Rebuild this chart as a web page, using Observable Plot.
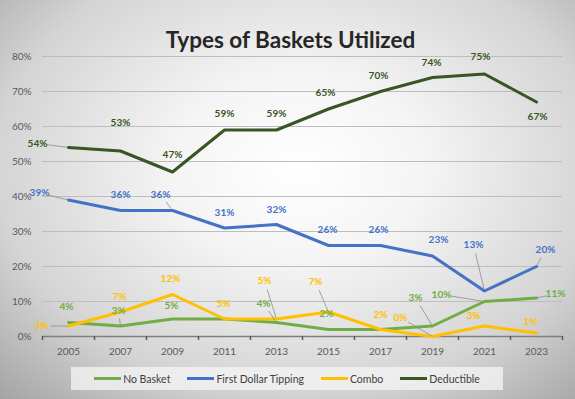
<!DOCTYPE html>
<html>
<head>
<meta charset="utf-8">
<script src="https://cdn.jsdelivr.net/npm/d3@7"></script>
<script src="https://cdn.jsdelivr.net/npm/@observablehq/plot@0.6"></script>
<style>
  html, body { margin: 0; padding: 0; }
  #wrap {
    position: relative; width: 575px; height: 399px; overflow: hidden;
    font-family: Lato, "Open Sans", sans-serif;
    background: radial-gradient(ellipse 75% 80% at 52% 42%, #ffffff 0%, #f4f4f4 30%, #d4d4d4 70%, #a4a4a4 100%);
  }
  #title {
    position: absolute; top: 27px; left: 3px; width: 575px; text-align: center;
    font-size: 22.5px; font-weight: bold; color: #262626; line-height: 26px;
  }
  #chart { position: absolute; top: 50px; left: 0; }
  #legend {
    position: absolute; left: 71px; top: 367px; width: 432px; height: 23px;
    background: rgba(245,245,245,0.75);
    display: flex; align-items: center; justify-content: center; gap: 17px;
    font-size: 10.5px; color: #404040;
  }
  .item { display: flex; align-items: center; }
  .sw { display: inline-block; width: 27px; height: 3px; margin-right: 2px; }
</style>
</head>
<body>
<div id="wrap">
  <div id="title">Types of Baskets Utilized</div>
  <div id="chart"></div>
  <div id="legend"></div>
</div>
<script>
// ---- data ----
const years = [2005, 2007, 2009, 2011, 2013, 2015, 2017, 2019, 2021, 2023];
const noBasket    = [4, 3, 5, 5, 4, 2, 2, 3, 10, 11];
const firstDollar = [39, 36, 36, 31, 32, 26, 26, 23, 13, 20];
const combo       = [3, 7, 12, 5, 5, 7, 2, 0, 3, 1];
const deductible  = [54, 53, 47, 59, 59, 65, 70, 74, 75, 67];
const seriesNames = ["No Basket", "First Dollar Tipping", "Combo", "Deductible"];
const yTicks = [0, 10, 20, 30, 40, 50, 60, 70, 80];
const tickBounds = [2004, 2006, 2008, 2010, 2012, 2014, 2016, 2018, 2020, 2022, 2024];

// ---- styling / label placement (pixels) ----
const colors = ["#70AD47", "#4472C4", "#FFC000", "#375623"];
const labelOffsets = [
  [[-2,-16],[-2,-15],[-1,-13],null,[-13,-19],[-2,-16],null,[-17,-28],[-43,-7],[19,-4]],
  [[-29,-7],[0,-16],[-12,-16],[0,-15],[0,-15],[-1,-16],[-2,-16],[6,-16],[-11,-46],[9,-17]],
  [[-27,0],[-1,-15],[-2,-16],[-1,-15],[-12,-38],[-13,-30],[0,-15],[-32,-19],[-11,-10],[-6,-11]],
  [[-31,-4],[0,-28],[0,-17],[0,-16],[0,-16],[-3,-16],[-2,-16],[-1,-15],[-4,-17],[1,15]]
];
const leaderFlags = [
  [0,1,0,0,1,0,0,1,1,1],
  [1,0,1,0,0,0,0,0,1,1],
  [1,0,0,0,1,1,0,1,0,0],
  [1,0,0,0,0,0,0,0,0,0]
];

const W = 575, H = 312, mT = 6, mB = 26, mL = 42, mR = 13;
const xDom = [2004, 2024], yDom = [0, 80];
const pxPerX = (W - mL - mR) / (xDom[1] - xDom[0]);
const pxPerY = (H - mT - mB) / (yDom[1] - yDom[0]);

const allSeries = [noBasket, firstDollar, combo, deductible];
const rows = [], labels = [], leaders = [];
allSeries.forEach((vals, s) => {
  vals.forEach((v, i) => {
    rows.push({series: seriesNames[s], year: years[i], value: v});
    const off = labelOffsets[s][i];
    if (!off) return;
    const lx = years[i] + off[0] / pxPerX;
    const ly = v - off[1] / pxPerY;
    labels.push({series: seriesNames[s], lx, ly, text: v + "%"});
    if (leaderFlags[s][i]) {
      const len = Math.hypot(off[0], off[1]);
      const ux = -off[0] / len, uy = -off[1] / len; // from label toward point (px)
      const startPx = Math.min(9, len * 0.5);
      const sx = off[0] + ux * startPx, sy = off[1] + uy * startPx;
      leaders.push({
        series: seriesNames[s],
        x1: years[i] + sx / pxPerX, y1: v - sy / pxPerY,
        x2: years[i] - ux * 1 / pxPerX, y2: v + uy * 1 / pxPerY
      });
    }
  });
});

const chart = Plot.plot({
  width: W, height: H,
  marginTop: mT, marginBottom: mB, marginLeft: mL, marginRight: mR,
  style: {background: "transparent", fontFamily: "Lato, 'Open Sans', sans-serif", overflow: "visible"},
  x: {domain: xDom},
  y: {domain: yDom},
  color: {domain: seriesNames, range: colors},
  marks: [
    Plot.gridY(yTicks, {stroke: "#bdbdbd", strokeOpacity: 1, strokeWidth: 1}),
    Plot.axisY(yTicks, {tickSize: 0, tickPadding: 11, tickFormat: d => d + "%", label: null, fill: "#595959", fontSize: 10}),
    Plot.ruleY([0], {stroke: "#7f7f7f", strokeWidth: 1.5}),
    Plot.axisX(tickBounds, {tickSize: 4, tickFormat: () => "", label: null, stroke: "#595959", strokeWidth: 1.5}),
    Plot.axisX(years, {tickSize: 0, tickPadding: 11, tickFormat: d => String(d), label: null, fill: "#595959", fontSize: 10}),
    Plot.line(rows, {x: "year", y: "value", z: "series", stroke: "series", strokeWidth: 3, strokeLinejoin: "round", strokeLinecap: "round"}),
    Plot.link(leaders, {x1: "x1", y1: "y1", x2: "x2", y2: "y2", stroke: "#8c8c8c", strokeWidth: 0.8}),
    Plot.text(labels, {x: "lx", y: "ly", text: "text", fill: "series", fontSize: 10, fontWeight: "bold"})
  ]
});
document.getElementById("chart").appendChild(chart);

const legend = document.getElementById("legend");
seriesNames.forEach((name, s) => {
  const item = document.createElement("div");
  item.className = "item";
  const sw = document.createElement("span");
  sw.className = "sw";
  sw.style.background = colors[s];
  item.appendChild(sw);
  item.appendChild(document.createTextNode(name));
  legend.appendChild(item);
});
</script>
</body>
</html>
